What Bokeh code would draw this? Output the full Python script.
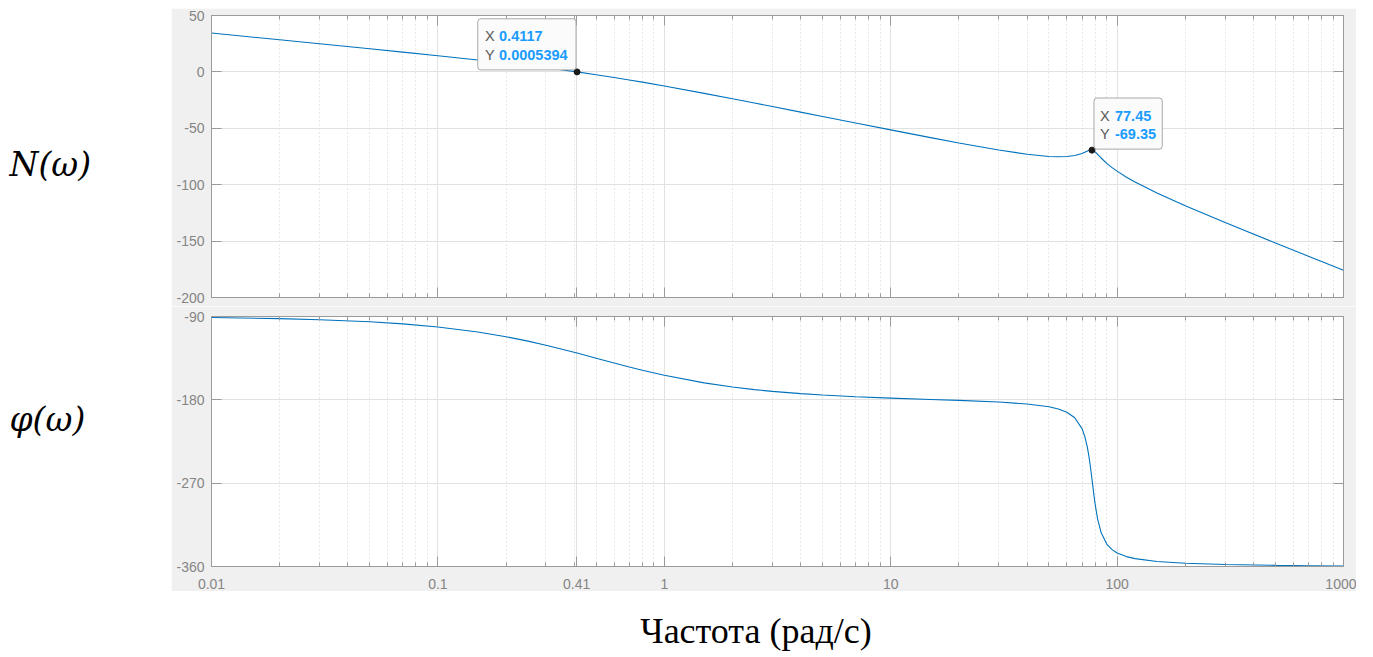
from bokeh.plotting import figure
from bokeh.models import (Range1d, FixedTicker, LogAxis, LinearAxis, Label, Spacer,
                          CustomJSTickFormatter)
from bokeh.layouts import row, column
from bokeh.embed import file_html
from bokeh.resources import INLINE

# ---- data (Bode diagram) ----
freq = [0.01, 0.02, 0.03, 0.05, 0.07, 0.1, 0.15, 0.2, 0.25, 0.3, 0.4117, 0.5, 0.6, 0.7, 0.8,
        1, 1.5, 2, 2.5, 3, 4, 5, 7, 10, 15, 20, 30, 40, 50, 55, 60, 65, 70, 72, 74, 75, 76,
        77, 77.45, 78, 79, 80, 82, 85, 90, 95, 100, 110, 120, 150, 200, 300, 500, 700, 1000]
mag_db = [34.49, 28.46, 24.93, 20.47, 17.51, 14.32, 10.60, 7.83, 5.56, 3.61, 0.0005394, -2.50,
          -4.94, -7.12, -9.08, -12.50, -19.03, -23.83, -27.62, -30.73, -35.68, -39.50, -45.28,
          -51.40, -58.25, -62.98, -69.23, -72.98, -74.95, -75.28, -75.06, -74.18, -72.32,
          -71.28, -70.17, -69.70, -69.38, -69.29, -69.35, -69.52, -70.08, -70.91, -73.01,
          -76.32, -81.07, -84.89, -87.97, -93.33, -97.57, -107.29, -118.56, -133.46, -151.60,
          -163.39, -175.84]
phase_deg = [-91.15, -92.29, -93.43, -95.71, -97.97, -101.31, -106.70, -111.80, -116.57,
             -120.96, -129.47, -135.05, -140.25, -144.53, -148.07, -153.53, -161.71, -166.15,
             -168.93, -170.83, -173.25, -174.77, -176.59, -178.11, -179.58, -180.62, -182.42,
             -184.47, -187.53, -189.89, -193.42, -199.34, -211.14, -219.56, -231.99, -240.19,
             -249.82, -260.60, -265.65, -271.89, -282.89, -292.88, -308.65, -323.39, -335.71,
             -341.78, -345.34, -349.32, -351.49, -354.54, -356.45, -357.83, -358.75, -359.12,
             -359.39]

x_ticks = [0.01, 0.1, 0.41, 1, 10, 100, 1000]
x_minor = [k * 10.0 ** e for e in range(-2, 3) for k in range(2, 10)]
mag_ticks = [-200, -150, -100, -50, 0, 50]
phase_ticks = [-360, -270, -180, -90]

tip_x = [0.4117, 77.45]
tip_y = [0.0005394, -69.35]
tip_xs = ["0.4117", "77.45"]
tip_ys = ["0.0005394", "-69.35"]

label_mag = "N(ω)"
label_phase = "φ(ω)"
label_x = "Частота (рад/с)"

# ---- styles ----
BG = "#f0f0f0"
AX = "#9a9a9a"
TXT = "#858585"
LINE = "#0072BD"
GRID = "#e2e2e2"
MINOR = "#d0d0d0"
TICK_FONT = "Liberation Sans"

show_fmt = "return tick.toString();"
hide_fmt = "return '';"


def style_axis(ax, labels, major_in, minor_in):
    ax.axis_line_color = AX
    ax.major_tick_line_color = AX
    ax.minor_tick_line_color = AX if minor_in else None
    ax.major_tick_in = major_in
    ax.major_tick_out = 0
    ax.minor_tick_in = minor_in
    ax.minor_tick_out = 0
    if labels:
        ax.formatter = CustomJSTickFormatter(code=show_fmt)
        ax.major_label_text_font = TICK_FONT
        ax.major_label_text_font_size = "14px"
        ax.major_label_text_color = TXT
    else:
        ax.formatter = CustomJSTickFormatter(code=hide_fmt)
        ax.major_label_standoff = 0


def make_panel(height, ys, yr, yticks, top, bottom, xlabels):
    p = figure(width=1185, height=height, x_axis_type="log",
               x_range=Range1d(0.01, 1000), y_range=Range1d(*yr),
               toolbar_location=None, output_backend="svg",
               min_border_left=40, min_border_right=13,
               min_border_top=top, min_border_bottom=bottom)
    p.border_fill_color = BG
    p.background_fill_color = "white"
    p.outline_line_color = AX
    xt = FixedTicker(ticks=x_ticks, minor_ticks=x_minor)
    yt = FixedTicker(ticks=yticks, minor_ticks=[])
    p.xaxis.ticker = xt
    p.yaxis.ticker = yt
    style_axis(p.xaxis[0], xlabels, 10, 4)
    if xlabels:
        p.xaxis.major_label_standoff = 12
    style_axis(p.yaxis[0], True, 10, 0)
    p.yaxis.major_label_standoff = 7
    top_ax = LogAxis(ticker=xt)
    style_axis(top_ax, False, 10, 4)
    p.add_layout(top_ax, "above")
    right_ax = LinearAxis(ticker=yt)
    style_axis(right_ax, False, 10, 0)
    p.add_layout(right_ax, "right")
    p.xgrid.ticker = xt
    p.ygrid.ticker = yt
    p.xgrid.grid_line_color = GRID
    p.ygrid.grid_line_color = GRID
    p.xgrid.minor_grid_line_color = MINOR
    p.xgrid.minor_grid_line_dash = "1 3"
    p.line(freq, ys, line_color=LINE, line_width=1.1)
    return p


p1 = make_panel(298, mag_db, (-200, 50), mag_ticks, 7, 9, False)
p2 = make_panel(285, phase_deg, (-360, -90), phase_ticks, 10, 25, True)

# data tips
p1.scatter(tip_x, tip_y, size=6, fill_color="#1a1a1a", line_color="#1a1a1a")
box_specs = [
    dict(anchor="bottom_right", xo=-1, yo=2, w=98, h=51, tx=-92, vx=-78, r1=36, r2=17),
    dict(anchor="bottom_left", xo=2, yo=1, w=69, h=51, tx=8, vx=23, r1=34, r2=16),
]
for i, s in enumerate(box_specs):
    p1.add_layout(Label(x=tip_x[i], y=tip_y[i], text=" ", text_font_size="1px",
                        anchor=s["anchor"], x_offset=s["xo"], y_offset=s["yo"],
                        background_fill_color="#fbfbfb", border_line_color="#a8a8a8",
                        border_radius=3,
                        padding=dict(left=s["w"] // 2, right=s["w"] // 2,
                                     top=s["h"] // 2, bottom=s["h"] // 2)))
    for j, (name, val, ro) in enumerate([("X", tip_xs[i], s["r1"]), ("Y", tip_ys[i], s["r2"])]):
        p1.add_layout(Label(x=tip_x[i], y=tip_y[i], text=name, x_offset=s["tx"], y_offset=ro,
                            text_align="left", text_baseline="middle",
                            text_font=TICK_FONT, text_font_size="14.5px", text_color="#5a5a5a"))
        p1.add_layout(Label(x=tip_x[i], y=tip_y[i], text=val, x_offset=s["vx"], y_offset=ro,
                            text_align="left", text_baseline="middle", text_font_style="bold",
                            text_font=TICK_FONT, text_font_size="14.5px", text_color="#1a9bff"))

# left labels
left = figure(width=171, height=657, x_range=Range1d(0, 171), y_range=Range1d(657, 0),
              x_axis_type=None, y_axis_type=None, toolbar_location=None,
              output_backend="svg", min_border=0)
left.outline_line_color = None
left.grid.visible = False
for txt, yy in [(label_mag, 164), (label_phase, 419)]:
    left.add_layout(Label(x=9, y=yy, text=txt, text_align="left", text_baseline="alphabetic",
                          text_font="DejaVu Serif", text_font_style="italic",
                          text_font_size="33px", text_color="black"))

# x label
xl = figure(width=1185, height=66, x_range=Range1d(171, 1356), y_range=Range1d(657, 591),
            x_axis_type=None, y_axis_type=None, toolbar_location=None,
            output_backend="svg", min_border=0)
xl.outline_line_color = None
xl.grid.visible = False
xl.add_layout(Label(x=741, y=630, text=label_x, text_align="center", text_baseline="alphabetic",
                    text_font="Liberation Serif", text_font_size="36px", text_color="black"))

layout = row(left, column(Spacer(width=1185, height=8), p1, p2, xl))
open("out.html", "w").write(file_html(layout, INLINE))
